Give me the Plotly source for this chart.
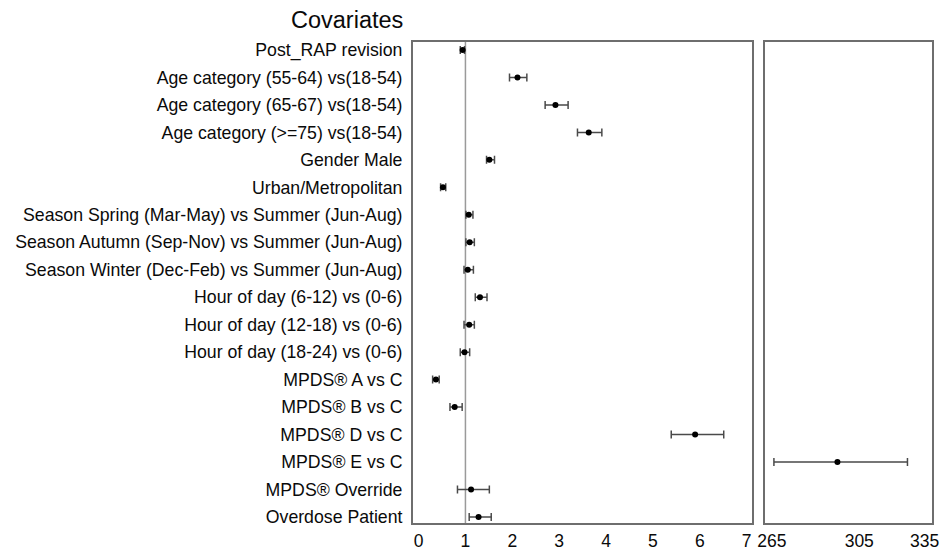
import plotly.graph_objects as go

covariates = [
    "Post_RAP revision",
    "Age category (55-64) vs(18-54)",
    "Age category (65-67) vs(18-54)",
    "Age category (>=75) vs(18-54)",
    "Gender Male",
    "Urban/Metropolitan",
    "Season Spring (Mar-May) vs Summer (Jun-Aug)",
    "Season Autumn (Sep-Nov) vs Summer (Jun-Aug)",
    "Season Winter (Dec-Feb) vs Summer (Jun-Aug)",
    "Hour of day (6-12) vs (0-6)",
    "Hour of day (12-18) vs (0-6)",
    "Hour of day (18-24) vs (0-6)",
    "MPDS® A vs C",
    "MPDS® B vs C",
    "MPDS® D vs C",
    "MPDS® E vs C",
    "MPDS® Override",
    "Overdose Patient",
]
odds_ratio = [0.94, 2.11, 2.92, 3.63, 1.51, 0.52, 1.07, 1.09, 1.05, 1.31, 1.08, 0.98, 0.37, 0.77, 5.90, 295.0, 1.12, 1.28]
ci_low = [0.89, 1.94, 2.70, 3.39, 1.45, 0.47, 1.01, 1.01, 0.97, 1.21, 0.97, 0.89, 0.30, 0.67, 5.39, 265.9, 0.83, 1.08]
ci_high = [0.98, 2.31, 3.19, 3.91, 1.62, 0.58, 1.16, 1.19, 1.17, 1.46, 1.19, 1.09, 0.44, 0.93, 6.51, 327.1, 1.51, 1.55]

left_ticks = [0, 1, 2, 3, 4, 5, 6, 7]
right_ticks = [265, 305, 335]
break_at = 7

pos = list(range(len(covariates)))

def part(keep):
    xs, ep, em = [], [], []
    for v, lo, hi in zip(odds_ratio, ci_low, ci_high):
        if keep(v):
            xs.append(v); ep.append(hi - v); em.append(v - lo)
        else:
            xs.append(None); ep.append(None); em.append(None)
    return xs, ep, em

lx, lep, lem = part(lambda v: v <= break_at)
rx, rep, rem = part(lambda v: v > break_at)

FONT = "Liberation Sans, Arial, sans-serif"
TXT = "#0a0a0a"
err_style = dict(type="data", thickness=1.5, width=4, color="#4a4a4a")

fig = go.Figure()
fig.add_trace(go.Scatter(
    x=lx, y=pos, mode="markers", xaxis="x", yaxis="y",
    marker=dict(color="black", size=6),
    error_x=dict(array=lep, arrayminus=lem, **err_style),
    showlegend=False, hoverinfo="skip"))
fig.add_trace(go.Scatter(
    x=rx, y=pos, mode="markers", xaxis="x2", yaxis="y2",
    marker=dict(color="black", size=6),
    error_x=dict(array=rep, arrayminus=rem, **err_style),
    showlegend=False, hoverinfo="skip"))

line_col = "#6e6e6e"
fig.update_layout(
    width=943, height=550,
    margin=dict(l=0, r=0, t=0, b=0),
    paper_bgcolor="white", plot_bgcolor="white",
    font=dict(family=FONT, size=17, color=TXT),
    xaxis=dict(domain=[0.4377, 0.7978], range=[-0.124, 7.12],
               tickvals=left_ticks, ticktext=[str(t) for t in left_ticks],
               showgrid=False, zeroline=False, showline=True, mirror=True,
               linecolor=line_col, linewidth=1.5,
               ticks="outside", ticklen=1, tickcolor="rgba(0,0,0,0)",
               tickfont=dict(size=17.5, family=FONT, color=TXT),
               automargin=False),
    xaxis2=dict(domain=[0.8112, 0.9887], range=[261.8, 338.5],
                tickvals=right_ticks, ticktext=[str(t) for t in right_ticks],
                showgrid=False, zeroline=False, showline=True, mirror=True,
                linecolor=line_col, linewidth=1.5,
                ticks="outside", ticklen=1, tickcolor="rgba(0,0,0,0)",
                tickfont=dict(size=17.5, family=FONT, color=TXT),
                anchor="y2", automargin=False),
    yaxis=dict(domain=[0.0491, 0.9236], range=[17.22, -0.29],
               tickvals=pos, ticktext=covariates,
               showgrid=False, zeroline=False, showline=True, mirror=True,
               linecolor=line_col, linewidth=1.5,
               ticks="outside", ticklen=5, tickcolor="rgba(0,0,0,0)",
               tickfont=dict(size=17.7, family=FONT, color=TXT),
               automargin=False),
    yaxis2=dict(domain=[0.0491, 0.9236], range=[17.22, -0.29], anchor="x2",
                showticklabels=False, showgrid=False, zeroline=False,
                showline=True, mirror=True, linecolor=line_col, linewidth=1.5,
                automargin=False),
)

fig.add_shape(type="line", xref="x", yref="y domain", x0=1, x1=1, y0=0, y1=1,
              line=dict(color="#9a9a9a", width=1.5), layer="below")

fig.add_annotation(text="Covariates", xref="paper", yref="paper",
                   x=405 / 943, y=1 - 20 / 550, xanchor="right", yanchor="middle",
                   showarrow=False, font=dict(family=FONT, size=23.5, color=TXT))

fig.write_html("out.html",
               config={"displayModeBar": False},
               post_script="document.body.style.margin='0px';document.body.style.padding='0px';")
